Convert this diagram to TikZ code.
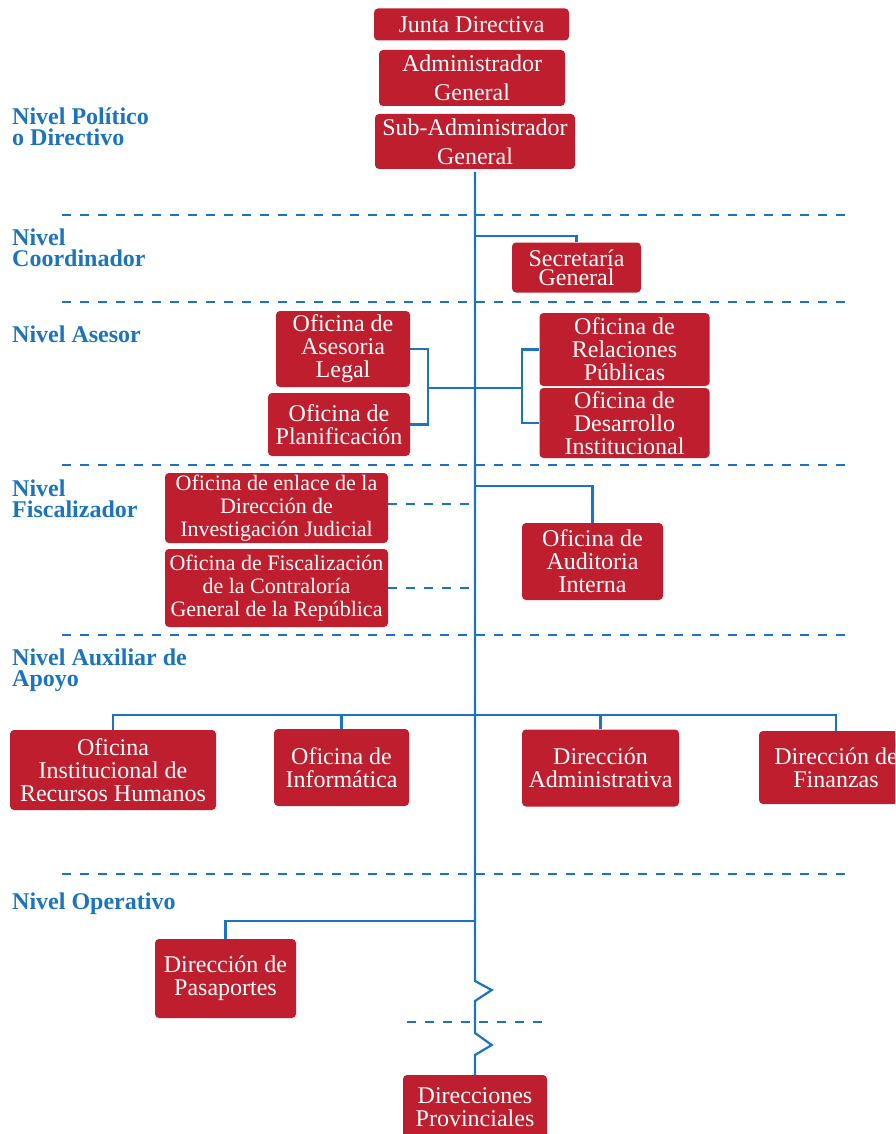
\documentclass[tikz,border=0pt]{standalone}
\usepackage{fontspec}
\setmainfont{Liberation Serif}
\definecolor{orgblue}{RGB}{28,115,190}
\definecolor{orgred}{RGB}{190,30,45}
\tikzset{
  orgbox/.style={fill=orgred, rounded corners=4pt, text=white, align=center, inner sep=0pt,
    font=\fontsize{24}{23}\selectfont},
  conn/.style={draw=orgblue, line width=2.2pt},
  sep/.style={draw=orgblue, line width=2.2pt, dash pattern=on 9pt off 9pt},
  lvl/.style={anchor=west, align=left, text=orgblue, inner sep=0pt,
    font=\fontsize{24}{21}\selectfont\bfseries},
}
\begin{document}
\begin{tikzpicture}[x=1pt,y=-1pt]
\useasboundingbox (0,0) rectangle (895,1134);
\clip (0,0) rectangle (895,1134);

% level labels
\node[lvl] (l1) at (12,127) {Nivel Político\\o Directivo};
\node[lvl] (l2) at (12,248) {Nivel\\Coordinador};
\node[lvl] (l3) at (12,334) {Nivel Asesor};
\node[lvl] (l4) at (12,499) {Nivel\\Fiscalizador};
\node[lvl] (l5) at (12,670) {Nivel Auxiliar de\\Apoyo};
\node[lvl] (l6) at (12,904) {Nivel Operativo};

% separators
\coordinate (s1a) at (62,215);  \coordinate (s1b) at (848,215);
\coordinate (s2a) at (62,302);  \coordinate (s2b) at (848,302);
\coordinate (s3a) at (62,465);  \coordinate (s3b) at (848,465);
\coordinate (s4a) at (62,635);  \coordinate (s4b) at (848,635);
\coordinate (s5a) at (62,874);  \coordinate (s5b) at (848,874);
\coordinate (s6a) at (407,1022); \coordinate (s6b) at (543,1022);
\foreach \a/\b in {s1a/s1b,s2a/s2b,s3a/s3b,s4a/s4b,s5a/s5b,s6a/s6b}
  \draw[sep] (\a) -- (\b);

% boxes
\node[orgbox, minimum width=195pt, minimum height=32pt] (junta) at (471.5,24.5) {Junta Directiva};
\node[orgbox, minimum width=186pt, minimum height=56pt, font=\fontsize{24}{29}\selectfont] (adm0) at (472,78) {Administrador\\General};
\node[orgbox, minimum width=200pt, minimum height=55pt, font=\fontsize{24}{29}\selectfont] (sub) at (475,141.5) {Sub-Administrador\\General};
\node[orgbox, minimum width=129pt, minimum height=50pt, font=\fontsize{24}{19}\selectfont] (sec) at (576.5,267.5) {Secretaría\\General};
\node[orgbox, minimum width=134pt, minimum height=76pt] (ase) at (343,349) {Oficina de\\Asesoria\\Legal};
\node[orgbox, minimum width=142pt, minimum height=63pt] (plan) at (339,424.5) {Oficina de\\Planificación};
\node[orgbox, minimum width=170pt, minimum height=73pt] (rel) at (624.5,349.5) {Oficina de\\Relaciones\\Públicas};
\node[orgbox, minimum width=170pt, minimum height=70pt] (des) at (624.5,423) {Oficina de\\Desarrollo\\Institucional};
\node[orgbox, minimum width=223pt, minimum height=70pt, font=\fontsize{22}{23}\selectfont] (enl) at (276.5,508) {Oficina de enlace de la\\Dirección de\\Investigación Judicial};
\node[orgbox, minimum width=223pt, minimum height=78pt, font=\fontsize{22}{23}\selectfont] (fis) at (276.5,588) {Oficina de Fiscalización\\de la Contraloría\\General de la República};
\node[orgbox, minimum width=141pt, minimum height=77pt] (aud) at (592.5,561.5) {Oficina de\\Auditoria\\Interna};
\node[orgbox, minimum width=206pt, minimum height=80pt] (rrhh) at (113,770) {Oficina\\Institucional de\\Recursos Humanos};
\node[orgbox, minimum width=135pt, minimum height=77pt] (inf) at (341.5,767.5) {Oficina de\\Informática};
\node[orgbox, minimum width=157pt, minimum height=77pt] (adm) at (600.5,768) {Dirección\\Administrativa};
\node[orgbox, minimum width=154pt, minimum height=73pt] (fin) at (836,767.5) {Dirección de\\Finanzas};
\node[orgbox, minimum width=141pt, minimum height=79pt] (pas) at (225.5,978.5) {Dirección de\\Pasaportes};
\node[orgbox, minimum width=144pt, minimum height=64pt] (prov) at (475,1107) {Direcciones\\Provinciales};

% trunk
\coordinate (t0) at (475,172);
\coordinate (z0) at (475,981);
\coordinate (z1) at (491.7,990);
\coordinate (z2) at (475,1001);
\coordinate (z3) at (475,1033);
\coordinate (z4) at (491.7,1045);
\coordinate (z5) at (475,1055);
\draw[conn, line join=miter] (t0) -- (z0) -- (z1) -- (z2) -- (z3) -- (z4) -- (z5) -- (prov.north);

% coordinator
\coordinate (sj) at (475,236);
\draw[conn] (sj) -| (sec.north);

% advisory brackets
\coordinate (lb) at (428,388);
\coordinate (rb) at (522,388);
\draw[conn] (ase.east) -| (lb) |- (plan.east);
\draw[conn] (lb) -- (rb);
\draw[conn] (rel.west) -| (rb) |- (des.west);

% fiscal
\coordinate (fj1) at (475,504);
\coordinate (fj2) at (475,588);
\draw[sep] (fj1 -| enl.east) -- (fj1);
\draw[sep] (fj2 -| fis.east) -- (fj2);
\coordinate (aj) at (475,486);
\draw[conn] (aj) -| (aud.north);

% support
\coordinate (apj) at (475,715);
\draw[conn] (rrhh.north) |- (apj) -| (fin.north);
\draw[conn] (inf.north) -- (inf.north |- apj);
\draw[conn] (adm.north) -- (adm.north |- apj);

% operative
\coordinate (opj) at (475,921);
\draw[conn] (opj) -| (pas.north);
\end{tikzpicture}
\end{document}
